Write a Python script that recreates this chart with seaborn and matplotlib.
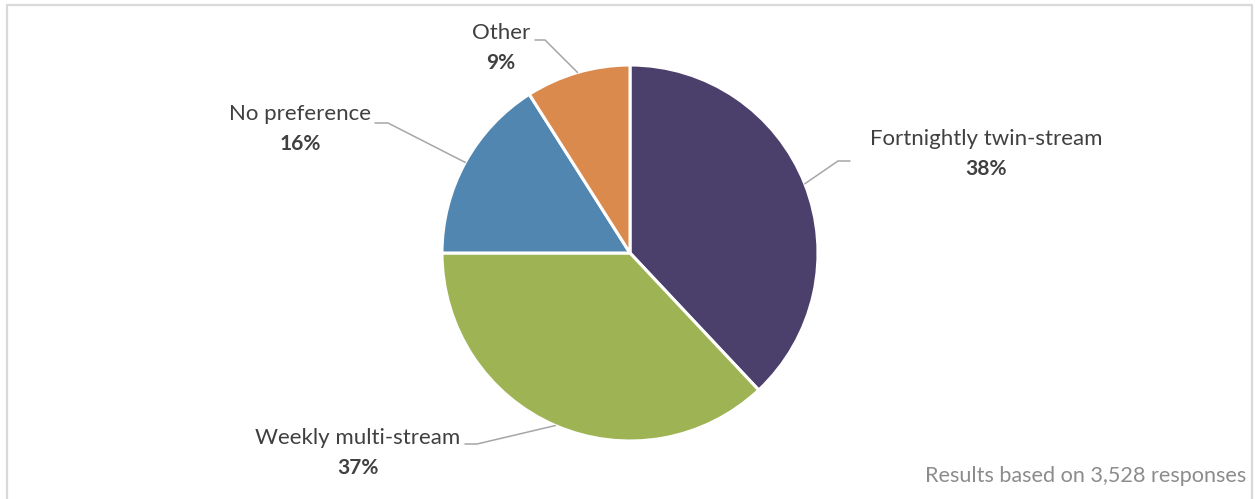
import numpy as np
import matplotlib
matplotlib.use("Agg")
import matplotlib.pyplot as plt
from matplotlib.lines import Line2D
import seaborn as sns

# Preferred release format among survey respondents
categories = ["Fortnightly twin-stream", "Weekly multi-stream", "No preference", "Other"]
shares = [38, 37, 16, 9]
pct_labels = ["38%", "37%", "16%", "9%"]
note = "Results based on 3,528 responses"

sns.set_theme(style="white")
plt.rcParams["font.family"] = ["Lato", "DejaVu Sans"]

palette = sns.color_palette(["#4B3F6B", "#9EB353", "#5086B0", "#DB8A4E"])

W, H = 1255, 499
fig = plt.figure(figsize=(W / 100, H / 100), dpi=100)
ax = fig.add_axes([0, 0, 1, 1])


def pt(x, y):
    """Top-left pixel position -> axes data position."""
    return x, H - y


cx, cy = pt(630, 253)
radius = 188
wedges, _ = ax.pie(
    shares, colors=palette, startangle=90, counterclock=False,
    center=(cx, cy), radius=radius, frame=True,
    wedgeprops=dict(edgecolor="white", linewidth=2.2),
)
ax.set_xlim(0, W)
ax.set_ylim(0, H)
ax.set_aspect("equal")
ax.axis("off")

# label anchor (text centre), elbow of the leader line, end of the short horizontal run
layout = {
    "Fortnightly twin-stream": dict(text=(986, 139), elbow=(838, 161), tail=(850, 161)),
    "Weekly multi-stream": dict(text=(358, 438), elbow=(477, 444), tail=(465, 444)),
    "No preference": dict(text=(300, 114), elbow=(388, 123), tail=(375, 123)),
    "Other": dict(text=(501, 33), elbow=(545, 40), tail=(535, 40)),
}

text_color = "#404040"
line_color = "#A6A6A6"
for w, cat, pl in zip(wedges, categories, pct_labels):
    spec = layout[cat]
    mid = np.deg2rad((w.theta1 + w.theta2) / 2)
    ex, ey = cx + radius * np.cos(mid), cy + radius * np.sin(mid)
    bx, by = pt(*spec["elbow"])
    tx, ty = pt(*spec["tail"])
    ax.plot([ex, bx, tx], [ey, by, ty], color=line_color, lw=1.1,
            solid_joinstyle="miter", zorder=1)
    lx, ly = pt(*spec["text"])
    ax.text(lx, ly, cat, ha="center", va="center", fontsize=16, color=text_color)
    ax.text(lx, ly - 30, pl, ha="center", va="center", fontsize=15,
            fontweight="bold", color=text_color)

nx, ny = pt(1246, 476)
ax.text(nx, ny, note, ha="right", va="center", fontsize=15.6, color="#8C8C8C")

# chart area border (open at the bottom)
frame_kw = dict(color="#D9D9D9", lw=1.6, transform=fig.transFigure)
fl, ft, fr = 7 / W, 1 - 5 / H, 1252 / W
fig.add_artist(Line2D([fl, fl, fr, fr], [0, ft, ft, 0], **frame_kw))

fig.savefig("out.png", dpi=100, facecolor="white")
